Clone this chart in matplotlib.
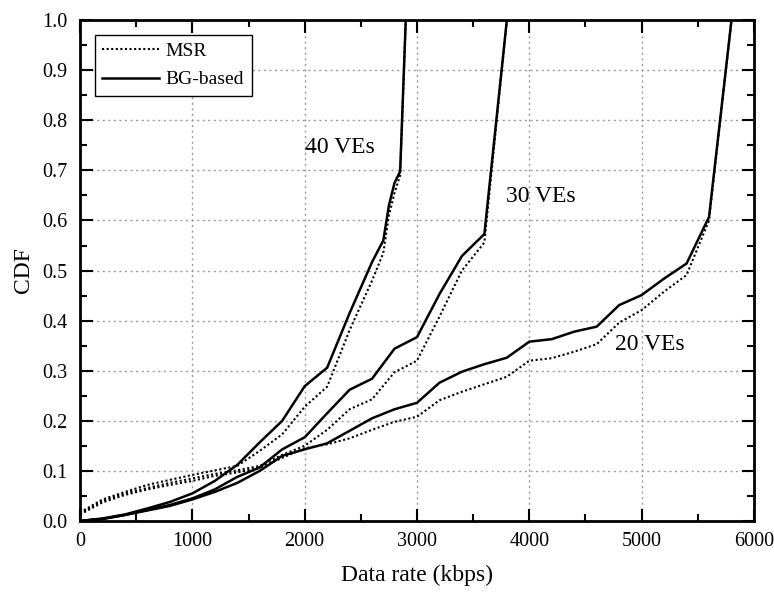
import matplotlib
matplotlib.use("Agg")
import matplotlib.pyplot as plt
from matplotlib.ticker import MultipleLocator

plt.rcParams["font.family"] = ["Liberation Serif", "DejaVu Serif"]
plt.rcParams["mathtext.fontset"] = "stix"

# data (kbps, CDF)
x40 = [0, 200, 400, 600, 800, 1000, 1200, 1400, 1600, 1800, 2000, 2200, 2400,
       2600, 2700, 2750, 2800, 2850, 2900]
bg40 = [0.0, 0.005, 0.013, 0.025, 0.038, 0.055, 0.08, 0.112, 0.157, 0.2, 0.269,
        0.306, 0.415, 0.517, 0.56, 0.63, 0.675, 0.698, 1.0]
msr40 = [0.017, 0.043, 0.058, 0.072, 0.082, 0.092, 0.101, 0.11, 0.14, 0.173,
         0.228, 0.268, 0.381, 0.48, 0.535, 0.61, 0.655, 0.69, 1.0]

x30 = list(range(0, 3801, 200))
bg30 = [0.0, 0.004, 0.012, 0.022, 0.032, 0.045, 0.063, 0.088, 0.107, 0.143,
        0.167, 0.215, 0.262, 0.284, 0.344, 0.367, 0.453, 0.529, 0.573, 1.0]
msr30 = [0.015, 0.04, 0.055, 0.066, 0.076, 0.085, 0.094, 0.101, 0.11, 0.132,
         0.15, 0.182, 0.223, 0.243, 0.297, 0.32, 0.408, 0.5, 0.556, 1.0]

x20 = list(range(0, 5801, 200))
bg20 = [0.0, 0.004, 0.012, 0.021, 0.03, 0.043, 0.058, 0.076, 0.1, 0.13, 0.143,
        0.155, 0.18, 0.205, 0.223, 0.236, 0.276, 0.298, 0.313, 0.326, 0.358,
        0.363, 0.378, 0.388, 0.431, 0.451, 0.484, 0.514, 0.607, 1.0]
msr20 = [0.013, 0.037, 0.052, 0.063, 0.072, 0.08, 0.09, 0.097, 0.106, 0.126,
         0.145, 0.153, 0.165, 0.182, 0.198, 0.208, 0.241, 0.258, 0.273, 0.288,
         0.32, 0.325, 0.338, 0.353, 0.396, 0.421, 0.458, 0.491, 0.6, 1.0]

curve_labels = ["40 VEs", "30 VEs", "20 VEs"]
label_pos = [(2310, 0.745), (4100, 0.647), (5070, 0.352)]

fig = plt.figure(figsize=(7.74, 5.92), dpi=100)
ax = fig.add_axes([0.1034, 0.12, 0.8707, 0.846])

dot = (0, (1, 1.2))
ax.plot(x40, msr40, color="black", lw=1.5, ls=dot, label="MSR")
ax.plot(x40, bg40, color="black", lw=1.8, label="BG-based")
ax.plot(x30, msr30, color="black", lw=1.5, ls=dot)
ax.plot(x30, bg30, color="black", lw=1.8)
ax.plot(x20, msr20, color="black", lw=1.5, ls=dot)
ax.plot(x20, bg20, color="black", lw=1.8)

for txt, (tx, ty) in zip(curve_labels, label_pos):
    ax.text(tx, ty, txt, fontsize=17, ha="center", va="center")

ax.set_xlim(0, 6000)
ax.set_ylim(0, 1.0)
ax.xaxis.set_major_locator(MultipleLocator(1000))
ax.xaxis.set_minor_locator(MultipleLocator(500))
ax.yaxis.set_major_locator(MultipleLocator(0.1))
ax.yaxis.set_minor_locator(MultipleLocator(0.05))
ax.yaxis.set_major_formatter(plt.FormatStrFormatter("%.1f"))

ax.grid(True, which="major", color="#999999", ls=(0, (1.5, 2.5)), lw=1.0)
ax.tick_params(which="both", direction="in", top=True, right=True,
               labelsize=14.5, width=1.5)
ax.tick_params(which="major", length=9)
ax.tick_params(which="minor", length=5)
ax.tick_params(axis="x", which="major", pad=8)
ax.tick_params(axis="y", which="major", pad=9)
for sp in ax.spines.values():
    sp.set_linewidth(2)

ax.set_xlabel("Data rate (kbps)", fontsize=17, labelpad=10)
ax.set_ylabel("CDF", fontsize=17, labelpad=6)

leg = ax.legend(loc="upper left", fontsize=14, handlelength=2.9,
                fancybox=False, framealpha=1, edgecolor="black",
                borderaxespad=0.75, labelspacing=0.55, handletextpad=0.35,
                borderpad=0.4)
leg.get_frame().set_linewidth(1.0)

fig.savefig("out.png", dpi=100)
